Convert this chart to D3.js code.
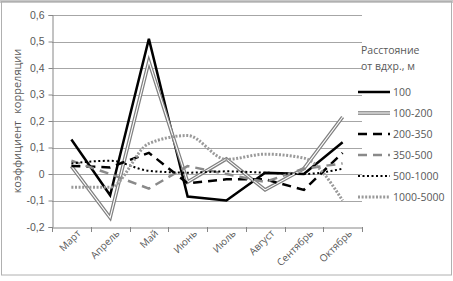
<!DOCTYPE html>
<html>
<head>
<meta charset="utf-8">
<script src="https://cdn.jsdelivr.net/npm/d3@7"></script>
<style>
  body { margin: 0; background: #fff; }
  svg { display: block; font-family: "Open Sans", "Liberation Sans", sans-serif; }
</style>
</head>
<body>
<svg width="453" height="281"></svg>
<script>
var months = ["Март", "Апрель", "Май", "Июнь", "Июль", "Август", "Сентябрь", "Октябрь"]
var yTicks = [-0.2, -0.1, 0, 0.1, 0.2, 0.3, 0.4, 0.5, 0.6]

var s100 = [0.13, -0.08, 0.51, -0.085, -0.10, 0.005, 0.0, 0.12]
var s100_200 = [0.03, -0.165, 0.425, -0.03, 0.057, -0.06, 0.02, 0.215]
var s200_350 = [0.03, 0.025, 0.08, -0.035, -0.02, -0.02, -0.06, 0.08]
var s350_500 = [0.05, 0.0, -0.055, 0.03, 0.0, -0.03, 0.02, 0.04]
var s500_1000 = [0.04, 0.05, 0.012, 0.005, 0.01, 0.005, 0.0, 0.02]
var s1000_5000 = [-0.05, -0.05, 0.115, 0.145, 0.055, 0.075, 0.06, -0.10]

var seriesNames = ["100", "100-200", "200-350", "350-500", "500-1000", "1000-5000"]
var seriesVals = [s100, s100_200, s200_350, s350_500, s500_1000, s1000_5000]

var styles = [
  {stroke: "#000", width: 2.5, dash: null, curve: d3.curveLinear},
  {stroke: "#808080", width: 3.6, dash: null, inner: "#fff", curve: d3.curveLinear},
  {stroke: "#000", width: 2.5, dash: "9,6", curve: d3.curveLinear},
  {stroke: "#8a8a8a", width: 2.5, dash: "9,6", curve: d3.curveLinear},
  {stroke: "#000", width: 2, dash: "2,2.5", curve: d3.curveMonotoneX},
  {stroke: "#9a9a9a", width: 3, dash: "2,1.6", curve: d3.curveMonotoneX}
]

var svg = d3.select("svg")
var textColor = "#595959"

// frame
svg.append("rect").attr("x", 0).attr("y", 0).attr("width", 453).attr("height", 3).attr("fill", "#c8c8c8")
svg.append("rect")
  .attr("x", 1.5).attr("y", 1.5).attr("width", 450).attr("height", 273.5)
  .attr("fill", "none").attr("stroke", "#b0b0b0")

var x = d3.scaleBand().domain(months).range([52, 362])
var y = d3.scaleLinear().domain([-0.2, 0.6]).range([227, 15])

// grid
svg.append("g").selectAll("line")
  .data(yTicks.filter(d => d !== -0.2))
  .enter().append("line")
  .attr("x1", 52).attr("x2", 362)
  .attr("y1", d => Math.round(y(d)) + 0.5).attr("y2", d => Math.round(y(d)) + 0.5)
  .attr("stroke", "#a6a6a6")

var yAxis = svg.append("g")
  .attr("transform", "translate(52.5,0)")
  .call(d3.axisLeft(y).tickValues(yTicks).tickSize(4).tickPadding(4)
    .tickFormat(d => d3.format(".1f")(d).replace(".", ",").replace("−", "-").replace("-0,0", "0").replace("0,0", "0")))
yAxis.select(".domain").attr("stroke", "#868686")
yAxis.selectAll(".tick line").attr("stroke", "#868686")
yAxis.selectAll("text").attr("fill", textColor).attr("font-size", 10.5)

var xAxis = svg.append("g")
  .attr("transform", "translate(0,227.5)")
  .call(d3.axisBottom(x).tickSize(0).tickFormat(""))
xAxis.select(".domain").attr("stroke", "#868686")
svg.append("g").selectAll("line")
  .data(d3.range(months.length + 1))
  .enter().append("line")
  .attr("x1", i => Math.round(52 + i * x.step()) + 0.5)
  .attr("x2", i => Math.round(52 + i * x.step()) + 0.5)
  .attr("y1", 227).attr("y2", 232)
  .attr("stroke", "#868686")

svg.append("g").selectAll("text")
  .data(months)
  .enter().append("text")
  .attr("transform", d => "translate(" + (x(d) + x.bandwidth() / 2 + 10) + ",234) rotate(-45)")
  .attr("text-anchor", "end")
  .attr("font-size", 10)
  .attr("fill", textColor)
  .text(d => d)

svg.append("text")
  .attr("transform", "translate(21,121) rotate(-90)")
  .attr("text-anchor", "middle")
  .attr("font-size", 11)
  .attr("fill", textColor)
  .attr("word-spacing", 4)
  .text("коэффициент корреляции")

// lines
seriesVals.forEach(function(vals, i) {
  var st = styles[i]
  var line = d3.line()
    .x((d, j) => x(months[j]) + x.bandwidth() / 2)
    .y(d => y(d))
    .curve(st.curve)
  var p = svg.append("path").datum(vals)
    .attr("d", line)
    .attr("fill", "none")
    .attr("stroke", st.stroke)
    .attr("stroke-width", st.width)
    .attr("stroke-linejoin", "miter")
  if (st.dash) p.attr("stroke-dasharray", st.dash)
  if (st.inner) {
    svg.append("path").datum(vals)
      .attr("d", line)
      .attr("fill", "none")
      .attr("stroke", st.inner)
      .attr("stroke-width", 1.1)
  }
})

// legend
var leg = svg.append("g")
leg.append("text").attr("x", 361).attr("y", 54).attr("font-size", 10.5).attr("fill", textColor).text("Расстояние")
leg.append("text").attr("x", 361).attr("y", 70).attr("font-size", 10.5).attr("fill", textColor).text("от вдхр., м")

seriesNames.forEach(function(name, i) {
  var st = styles[i]
  var ly = 92 + i * 21
  var l = leg.append("line")
    .attr("x1", 358).attr("x2", 390).attr("y1", ly).attr("y2", ly)
    .attr("stroke", st.stroke).attr("stroke-width", st.width)
  if (st.dash) l.attr("stroke-dasharray", st.dash)
  if (st.inner) {
    leg.append("line")
      .attr("x1", 358).attr("x2", 390).attr("y1", ly).attr("y2", ly)
      .attr("stroke", st.inner).attr("stroke-width", 1.1)
  }
  leg.append("text").attr("x", 393).attr("y", ly + 4)
    .attr("font-size", 10.5).attr("fill", textColor).text(name)
})
</script>
</body>
</html>
